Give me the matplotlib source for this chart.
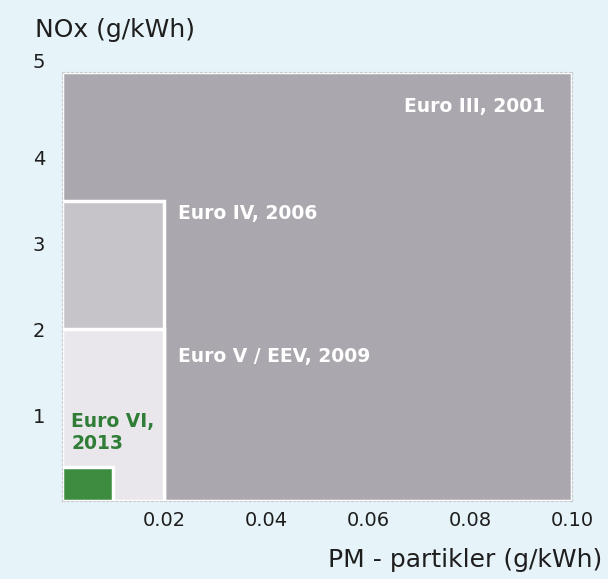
import matplotlib.pyplot as plt
from matplotlib.patches import Rectangle

plt.rcParams['font.family'] = ['DejaVu Sans']

# Euro emission standards for heavy-duty engines
stages = ["Euro III, 2001", "Euro IV, 2006", "Euro V / EEV, 2009", "Euro VI,\n2013"]
pm_limits = [0.10, 0.02, 0.02, 0.01]     # g/kWh
nox_limits = [5.0, 3.5, 2.0, 0.4]        # g/kWh
fills = ["#aba7ae", "#c6c3c9", "#e9e7eb", "#3d8c40"]

xticks = [0.02, 0.04, 0.06, 0.08, 0.10]
xticklabels = ["0.02", "0.04", "0.06", "0.08", "0.10"]
yticks = [1, 2, 3, 4, 5]

bg = "#e6f3f8"
fig = plt.figure(figsize=(6.08, 5.79), dpi=100, facecolor=bg)
ax = fig.add_axes([0.102, 0.135, 0.839, 0.741])
ax.set_facecolor(bg)

for pm, nox, c in zip(pm_limits, nox_limits, fills):
    ax.add_patch(Rectangle((0, 0), pm, nox, facecolor=c, edgecolor="white", linewidth=2.5))

ax.set_xlim(0, 0.10)
ax.set_ylim(0, 5)
for s in ax.spines.values():
    s.set_linestyle((0, (2, 2)))
    s.set_color("#c8ccd0")
    s.set_linewidth(0.8)

ax.set_xticks(xticks)
ax.set_xticklabels(xticklabels, fontsize=14, color="#1e1e1e")
ax.set_yticks(yticks)
ax.set_yticklabels([str(v) for v in yticks], fontsize=14, color="#1e1e1e")
ax.tick_params(axis="x", length=0, pad=7)
ax.tick_params(axis="y", length=0, pad=12)
for lbl in ax.get_yticklabels():
    if lbl.get_text() == "5":
        lbl.set_va("bottom")

# stage labels
ax.text(0.0947, 4.6, stages[0], color="white", fontsize=13.5, fontweight="bold", ha="right", va="center")
ax.text(0.0228, 3.35, stages[1], color="white", fontsize=13.5, fontweight="bold", ha="left", va="center")
ax.text(0.0228, 1.68, stages[2], color="white", fontsize=13.5, fontweight="bold", ha="left", va="center")
ax.text(0.0018, 0.8, stages[3], color="#2f7d36", fontsize=13.5, fontweight="bold", ha="left", va="center",
        linespacing=1.2)

fig.text(0.058, 0.948, "NOx (g/kWh)", fontsize=18, color="#1e1e1e", ha="left", va="center")
fig.text(0.99, 0.033, "PM - partikler (g/kWh)", fontsize=18, color="#1e1e1e", ha="right", va="center")

fig.savefig("out.png", dpi=100, facecolor=bg)
